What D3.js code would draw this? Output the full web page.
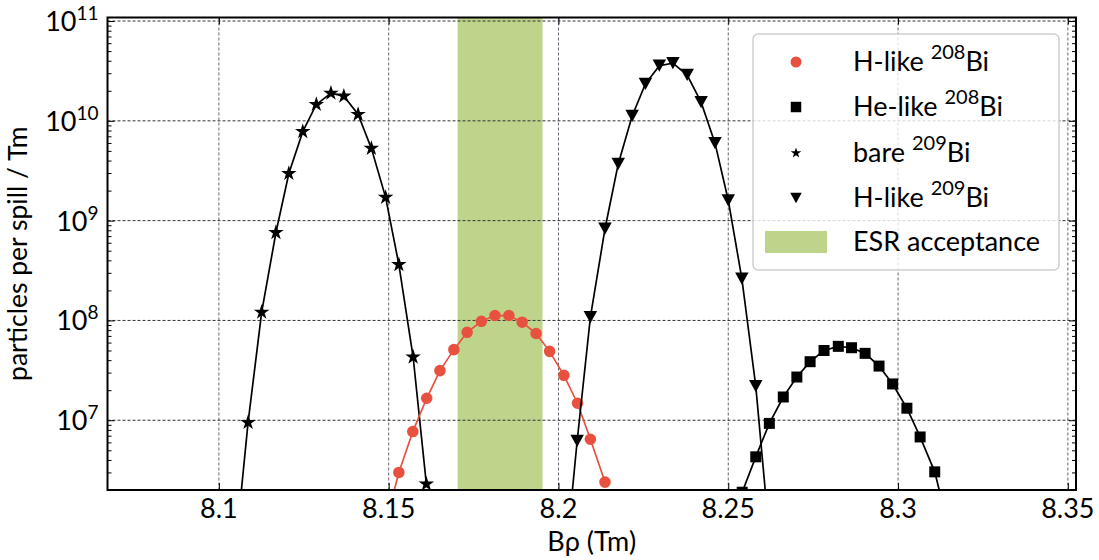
<!DOCTYPE html>
<html>
<head>
<meta charset="utf-8">
<script src="https://cdn.jsdelivr.net/npm/d3@7"></script>
<style>
  body { margin: 0; background: #fff; }
  svg { font-family: Lato, "Open Sans", sans-serif; }
</style>
</head>
<body>
<div id="chart"></div>
<script>
// Bρ (Tm) values and particle rates per series
const bareX = [8.1046, 8.1086, 8.1126, 8.1168, 8.1206, 8.1247, 8.1287, 8.1330, 8.1368, 8.1410, 8.1449, 8.1491, 8.1530, 8.1572, 8.1611];
const bareY = [4e5, 9.5e6, 1.21e8, 7.6e8, 2.97e9, 7.8e9, 1.46e10, 1.89e10, 1.77e10, 1.16e10, 5.3e9, 1.71e9, 3.63e8, 4.3e7, 2.29e6];

const h208X = [8.1490, 8.1530, 8.1571, 8.1612, 8.1651, 8.1692, 8.1731, 8.1773, 8.1813, 8.1854, 8.1893, 8.1934, 8.1974, 8.2016, 8.2056, 8.2094, 8.2137];
const h208Y = [9e5, 3.0e6, 7.7e6, 1.66e7, 3.14e7, 5.1e7, 7.6e7, 9.8e7, 1.12e8, 1.12e8, 9.6e7, 7.4e7, 4.9e7, 2.82e7, 1.48e7, 6.45e6, 2.4e6];

const h209X = [8.2015, 8.2055, 8.2094, 8.2137, 8.2176, 8.2217, 8.2256, 8.2297, 8.2337, 8.2379, 8.2420, 8.2461, 8.2500, 8.2540, 8.2581, 8.2621];
const h209Y = [2.4e5, 6.2e6, 1.08e8, 8.3e8, 3.7e9, 1.12e10, 2.34e10, 3.57e10, 3.78e10, 2.88e10, 1.54e10, 5.98e9, 1.6e9, 2.63e8, 2.2e7, 7e5];

const he208X = [8.2541, 8.2581, 8.2621, 8.2662, 8.2702, 8.2741, 8.2782, 8.2824, 8.2863, 8.2903, 8.2944, 8.2984, 8.3026, 8.3065, 8.3108, 8.3148];
const he208Y = [1.9e6, 4.3e6, 9.3e6, 1.71e7, 2.71e7, 3.86e7, 5.0e7, 5.5e7, 5.33e7, 4.68e7, 3.49e7, 2.31e7, 1.32e7, 6.8e6, 3.04e6, 8.5e5];

const esrBand = [8.1703, 8.1953];

const xTicks = [8.1, 8.15, 8.2, 8.25, 8.3, 8.35];
const xTickLabels = ["8.1", "8.15", "8.2", "8.25", "8.3", "8.35"];
const yExponents = [7, 8, 9, 10, 11];

const svgWidth = 1099;
const svgHeight = 560;
const margin = { top: 17.5, right: 23, bottom: 70, left: 107.5 };
const width = svgWidth - margin.left - margin.right;
const height = svgHeight - margin.top - margin.bottom;

const svg = d3.select("#chart").append("svg")
  .attr("width", svgWidth)
  .attr("height", svgHeight);

const chart = svg.append("g")
  .attr("transform", `translate(${margin.left},${margin.top})`);

const xScale = d3.scaleLinear().domain([8.0672, 8.3524]).range([0, width]);
const yScale = d3.scaleLog().domain([2.0e6, 1.085e11]).range([height, 0]);

svg.append("defs").append("clipPath").attr("id", "clip")
  .append("rect").attr("width", width).attr("height", height);

// ESR acceptance band
chart.append("rect")
  .attr("x", xScale(esrBand[0]))
  .attr("width", xScale(esrBand[1]) - xScale(esrBand[0]))
  .attr("y", 0)
  .attr("height", height)
  .attr("fill", "#bfd48b");

// grid
chart.append("g").selectAll("line")
  .data(xTicks)
  .enter().append("line")
  .attr("x1", (d) => xScale(d)).attr("x2", (d) => xScale(d))
  .attr("y1", 0).attr("y2", height)
  .attr("stroke", "#666").attr("stroke-width", 1).attr("stroke-dasharray", "3,2");
chart.append("g").selectAll("line")
  .data(yExponents)
  .enter().append("line")
  .attr("x1", 0).attr("x2", width)
  .attr("y1", (d) => yScale(Math.pow(10, d))).attr("y2", (d) => yScale(Math.pow(10, d)))
  .attr("stroke", "#333").attr("stroke-width", 1).attr("stroke-dasharray", "3,2");

// down-pointing triangle centered on its bounding box
const triDown = {
  draw(context, size) {
    const s = Math.sqrt(size);
    context.moveTo(-s * 0.55, -s * 0.5);
    context.lineTo(s * 0.55, -s * 0.5);
    context.lineTo(0, s * 0.5);
    context.closePath();
  }
};

const series = [
  { x: bareX, y: bareY, color: "#000", symbol: d3.symbolStar, size: 75 },
  { x: h208X, y: h208Y, color: "#e8513f", symbol: d3.symbolCircle, size: 105 },
  { x: h209X, y: h209Y, color: "#000", symbol: triDown, size: 150 },
  { x: he208X, y: he208Y, color: "#000", symbol: d3.symbolSquare, size: 121 },
];

const plot = chart.append("g").attr("clip-path", "url(#clip)");

series.forEach((s) => {
  const pts = s.x.map((x, i) => ({ x: x, y: s.y[i] }));
  const line = d3.line().x((d) => xScale(d.x)).y((d) => yScale(d.y));
  plot.append("path")
    .datum(pts)
    .attr("fill", "none")
    .attr("stroke", s.color)
    .attr("stroke-width", 1.7)
    .attr("d", line);
  plot.selectAll(null)
    .data(pts)
    .enter().append("path")
    .attr("transform", (d) => `translate(${xScale(d.x)},${yScale(d.y)})`)
    .attr("d", d3.symbol().type(s.symbol).size(s.size))
    .attr("fill", s.color);
});

// axes with inward ticks
const minorTicks = [];
yExponents.concat([6]).forEach((e) => {
  for (let m = 2; m <= 9; m++) {
    const v = m * Math.pow(10, e);
    if (v >= 2.0e6 && v <= 1.085e11) minorTicks.push(v);
  }
});
const majorTicks = yExponents.map((e) => Math.pow(10, e));

const styleAxis = (g) => {
  g.select(".domain").remove();
  g.selectAll("line").attr("stroke", "#000").attr("stroke-width", 1);
  g.selectAll("text").remove();
};

chart.append("g").call(d3.axisLeft(yScale).tickValues(majorTicks).tickSize(-7)).call(styleAxis);
chart.append("g").call(d3.axisLeft(yScale).tickValues(minorTicks).tickSize(-4)).call(styleAxis);
chart.append("g").attr("transform", `translate(${width},0)`)
  .call(d3.axisRight(yScale).tickValues(majorTicks).tickSize(-7)).call(styleAxis);
chart.append("g").attr("transform", `translate(${width},0)`)
  .call(d3.axisRight(yScale).tickValues(minorTicks).tickSize(-4)).call(styleAxis);
chart.append("g").attr("transform", `translate(0,${height})`)
  .call(d3.axisBottom(xScale).tickValues(xTicks).tickSize(-7)).call(styleAxis);
chart.append("g")
  .call(d3.axisTop(xScale).tickValues(xTicks).tickSize(-7)).call(styleAxis);

// frame
chart.append("rect")
  .attr("width", width).attr("height", height)
  .attr("fill", "none").attr("stroke", "#000").attr("stroke-width", 2);

// tick labels
chart.append("g").selectAll("text")
  .data(xTicks)
  .enter().append("text")
  .attr("x", (d) => xScale(d))
  .attr("y", height + 28)
  .attr("text-anchor", "middle")
  .style("font-size", "27px")
  .text((d, i) => xTickLabels[i]);

const yLab = chart.append("g").selectAll("text")
  .data(yExponents)
  .enter().append("text")
  .attr("x", -9)
  .attr("y", (d) => yScale(Math.pow(10, d)) + 10)
  .attr("text-anchor", "end")
  .style("font-size", "27px");
yLab.append("tspan").text("10");
yLab.append("tspan").attr("dy", -11).style("font-size", "19px").text((d) => d);

// axis titles
svg.append("text")
  .attr("x", margin.left + width / 2)
  .attr("y", 551)
  .attr("text-anchor", "middle")
  .style("font-size", "27px")
  .text("Bρ (Tm)");

svg.append("text")
  .attr("transform", `translate(27,${margin.top + height / 2}) rotate(-90)`)
  .attr("text-anchor", "middle")
  .style("font-size", "26.5px")
  .text("particles per spill / Tm");

// legend
const legendItems = [
  { pre: "H-like ", iso: "208", color: "#e8513f", symbol: d3.symbolCircle, size: 95 },
  { pre: "He-like ", iso: "208", color: "#000", symbol: d3.symbolSquare, size: 110 },
  { pre: "bare ", iso: "209", color: "#000", symbol: d3.symbolStar, size: 35 },
  { pre: "H-like ", iso: "209", color: "#000", symbol: triDown, size: 110 },
];
const legend = svg.append("g").attr("transform", "translate(753,34)");
legend.append("rect")
  .attr("width", 306).attr("height", 236).attr("rx", 5)
  .attr("fill", "#fff").attr("fill-opacity", 0.8)
  .attr("stroke", "#d0d0d0").attr("stroke-width", 1.5);

const rowY = [28, 73, 119, 164];
legendItems.forEach((d, i) => {
  legend.append("path")
    .attr("transform", `translate(43,${rowY[i]})`)
    .attr("d", d3.symbol().type(d.symbol).size(d.size))
    .attr("fill", d.color);
  const t = legend.append("text")
    .attr("x", 100)
    .attr("y", rowY[i] + 9)
    .style("font-size", "27px");
  t.append("tspan").text(d.pre);
  t.append("tspan").attr("dy", -12).style("font-size", "20px").text(d.iso);
  t.append("tspan").attr("dy", 12).text("Bi");
});
legend.append("rect")
  .attr("x", 12).attr("y", 197).attr("width", 62).attr("height", 22)
  .attr("fill", "#bfd48b");
legend.append("text")
  .attr("x", 100).attr("y", 217)
  .style("font-size", "27px")
  .text("ESR acceptance");
</script>
</body>
</html>
